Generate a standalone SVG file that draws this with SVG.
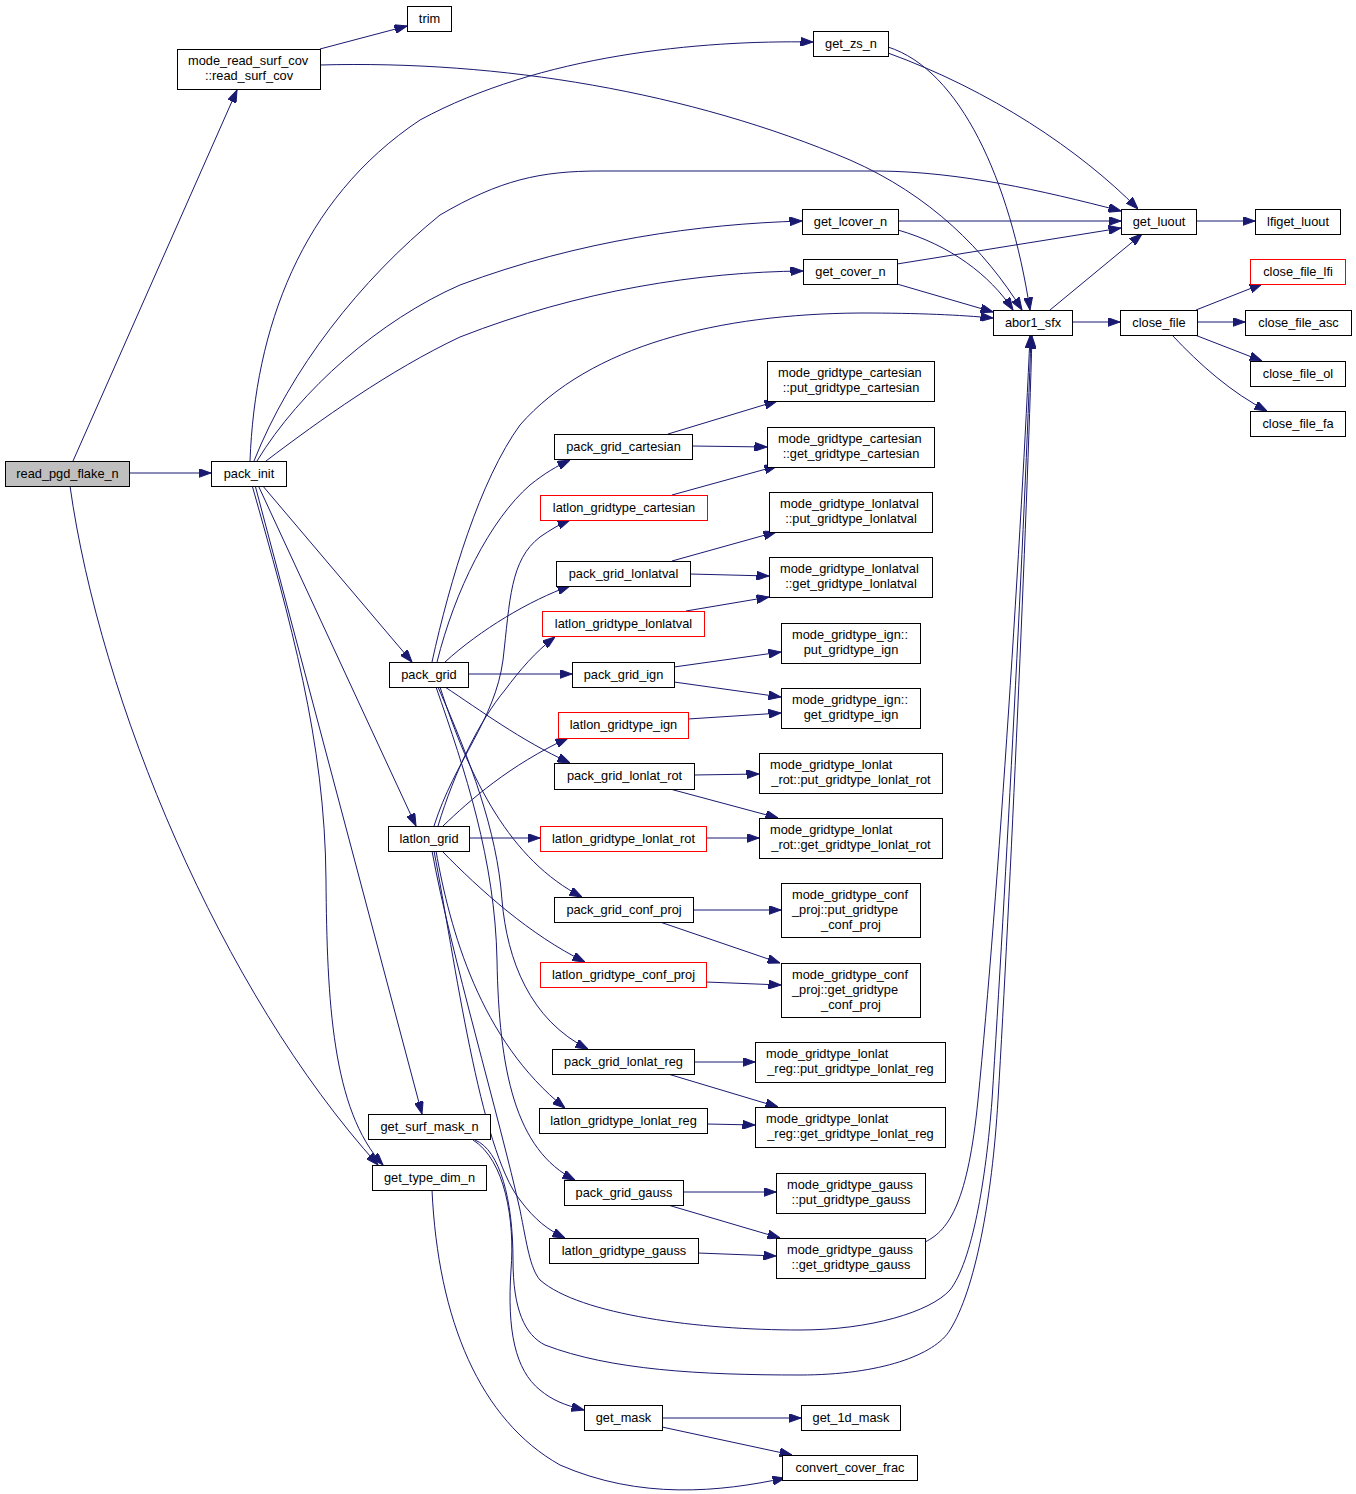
<svg xmlns="http://www.w3.org/2000/svg" width="1356" height="1494" viewBox="0 0 1356 1494">
<style>
.n rect{fill:#ffffff;stroke:#000000;stroke-width:1}
.n.red rect{stroke:#ff0000}
.n.root rect{fill:#bfbfbf}
text{font-family:"Liberation Sans",Arial,Helvetica,sans-serif;font-size:12.8px;fill:#000000}
.c{text-anchor:middle}
.edges path{fill:none;stroke:#191970;stroke-width:1;marker-end:url(#a)}
</style>
<defs>
<marker id="a" viewBox="0 0 12.5 9" refX="12.5" refY="4.5" markerWidth="12.5" markerHeight="9" markerUnits="userSpaceOnUse" orient="auto">
<path d="M0,0 L12.5,4.5 L0,9 z" fill="#191970" stroke="#191970" stroke-width="1"/>
</marker>
</defs>
<rect x="0" y="0" width="1356" height="1494" fill="#ffffff"/>
<g class="edges" id="edges">
<path d="M73,461 L237,90"/>
<path d="M129,473 L211,473"/>
<path d="M70,486 C100,700 220,990 378,1165"/>
<path d="M320,49 L407,26"/>
<path d="M320,65 C500,60 690,92 850,160 C930,195 985,250 1022,310"/>
<path d="M250,461 C255,330 300,200 420,120 C540,55 700,40 813,42"/>
<path d="M254,461 C290,370 360,280 440,215 C500,180 540,171 600,171 L880,171 C960,172 1040,190 1121,211"/>
<path d="M257,461 C300,390 380,320 460,285 C580,240 700,224 802,221"/>
<path d="M266,461 C320,420 390,370 460,337 C580,290 700,272 803,271"/>
<path d="M262,485 L412,662"/>
<path d="M258,485 L416,826"/>
<path d="M255,485 L422,1114"/>
<path d="M252,485 C290,620 325,740 326,880 C327,1000 332,1110 383,1165"/>
<path d="M888,53 C990,90 1080,150 1138,209"/>
<path d="M888,47 C960,70 1010,180 1030,310"/>
<path d="M898,221 L1121,221"/>
<path d="M898,230 C950,245 990,275 1013,310"/>
<path d="M897,264 L1121,228"/>
<path d="M897,284 L993,312"/>
<path d="M1196,221 L1255,221"/>
<path d="M1050,310 L1142,234"/>
<path d="M1072,322 L1120,322"/>
<path d="M1196,310 L1262,284"/>
<path d="M1197,322 L1245,322"/>
<path d="M1195,335 L1262,361"/>
<path d="M1172,335 C1200,365 1232,393 1267,411"/>
<path d="M432,662 C450,580 480,480 520,425 C590,345 720,314 860,313 C920,313 960,315 993,318"/>
<path d="M437,662 C455,590 490,520 530,485 C545,473 557,466 570,460"/>
<path d="M445,662 C480,630 530,600 570,586"/>
<path d="M468,674 L572,674"/>
<path d="M445,687 C480,710 520,740 570,763"/>
<path d="M440,687 C470,780 510,860 582,897"/>
<path d="M438,687 C470,760 497,830 502,900 C507,960 530,1020 588,1049"/>
<path d="M436,687 C465,770 495,860 497,960 C499,1070 515,1150 575,1180"/>
<path d="M434,826 C455,760 495,720 503,660 C510,600 510,560 540,537 C550,530 560,524 570,520"/>
<path d="M438,826 C455,770 480,720 505,690 C520,670 535,652 555,637"/>
<path d="M443,826 C470,800 510,765 568,738"/>
<path d="M469,838 L540,838"/>
<path d="M442,851 C480,890 530,935 585,962"/>
<path d="M436,851 C450,930 480,1040 565,1108"/>
<path d="M434,851 C455,960 480,1150 520,1200 C535,1220 548,1230 565,1238"/>
<path d="M432,851 C450,950 500,1120 520,1210 C527,1245 530,1268 540,1280 C580,1315 700,1330 800,1330 C870,1330 930,1312 950,1290 C972,1262 986,1180 992,1100 C1005,900 1025,520 1031,336"/>
<path d="M475,1140 C500,1150 513,1200 513,1260 C513,1310 525,1335 545,1345 C610,1370 700,1375 800,1375 C880,1375 935,1355 950,1330 C975,1290 992,1200 998,1100 C1010,900 1027,520 1032,336"/>
<path d="M473,1140 C505,1160 515,1220 511,1270 C507,1330 515,1370 540,1390 C552,1400 564,1405 584,1410"/>
<path d="M432,1190 C438,1320 480,1420 560,1465 C640,1500 720,1492 785,1478"/>
<path d="M662,1418 L801,1418"/>
<path d="M662,1427 L792,1455"/>
<path d="M668,434 L777,401"/>
<path d="M692,446 L767,447"/>
<path d="M672,495 L777,466"/>
<path d="M672,561 L776,532"/>
<path d="M690,574 L769,576"/>
<path d="M686,611 L769,597"/>
<path d="M674,667 L781,652"/>
<path d="M674,682 L781,697"/>
<path d="M688,719 L781,713"/>
<path d="M694,775 L759,774"/>
<path d="M670,789 L778,818"/>
<path d="M706,838 L759,838"/>
<path d="M693,910 L781,910"/>
<path d="M660,922 L780,963"/>
<path d="M706,982 L781,985"/>
<path d="M694,1062 L755,1062"/>
<path d="M668,1074 L778,1107"/>
<path d="M707,1124 L755,1125"/>
<path d="M683,1192 L776,1192"/>
<path d="M668,1205 L780,1238"/>
<path d="M698,1253 L776,1256"/>
<path d="M925,1242 C950,1230 968,1200 978,1100 C998,900 1022,520 1030,336"/>
</g>
<g class="n root" id="read_pgd_flake_n"><rect x="5.5" y="461.5" width="124" height="25"/><text class="c" x="67.5" y="477.5">read_pgd_flake_n</text></g>
<g class="n" id="pack_init"><rect x="211.5" y="461.5" width="75" height="25"/><text class="c" x="249" y="477.5">pack_init</text></g>
<g class="n" id="read_surf_cov"><rect x="177.5" y="49.5" width="143" height="40"/><text x="188" y="65">mode_read_surf_cov</text><text class="c" x="249" y="80">::read_surf_cov</text></g>
<g class="n" id="trim"><rect x="407.5" y="6.5" width="44" height="25"/><text class="c" x="429.5" y="22.5">trim</text></g>
<g class="n" id="get_zs_n"><rect x="813.5" y="31.5" width="75" height="25"/><text class="c" x="851" y="47.5">get_zs_n</text></g>
<g class="n" id="get_luout"><rect x="1121.5" y="209.5" width="75" height="25"/><text class="c" x="1159" y="225.5">get_luout</text></g>
<g class="n" id="lfiget_luout"><rect x="1255.5" y="209.5" width="85" height="25"/><text class="c" x="1298" y="225.5">lfiget_luout</text></g>
<g class="n" id="get_lcover_n"><rect x="802.5" y="209.5" width="96" height="25"/><text class="c" x="850.5" y="225.5">get_lcover_n</text></g>
<g class="n" id="get_cover_n"><rect x="803.5" y="259.5" width="94" height="25"/><text class="c" x="850.5" y="275.5">get_cover_n</text></g>
<g class="n" id="abor1_sfx"><rect x="993.5" y="310.5" width="79" height="25"/><text class="c" x="1033" y="326.5">abor1_sfx</text></g>
<g class="n" id="close_file"><rect x="1120.5" y="310.5" width="77" height="25"/><text class="c" x="1159" y="326.5">close_file</text></g>
<g class="n red" id="close_file_lfi"><rect x="1250.5" y="259.5" width="95" height="25"/><text class="c" x="1298" y="275.5">close_file_lfi</text></g>
<g class="n" id="close_file_asc"><rect x="1245.5" y="310.5" width="106" height="25"/><text class="c" x="1298.5" y="326.5">close_file_asc</text></g>
<g class="n" id="close_file_ol"><rect x="1250.5" y="361.5" width="95" height="25"/><text class="c" x="1298" y="377.5">close_file_ol</text></g>
<g class="n" id="close_file_fa"><rect x="1250.5" y="411.5" width="95" height="25"/><text class="c" x="1298" y="427.5">close_file_fa</text></g>
<g class="n" id="put_gridtype_cartesian"><rect x="767.5" y="361.5" width="167" height="40"/><text x="778" y="377">mode_gridtype_cartesian</text><text class="c" x="851" y="392">::put_gridtype_cartesian</text></g>
<g class="n" id="pack_grid_cartesian"><rect x="554.5" y="434.5" width="138" height="25"/><text class="c" x="623.5" y="450.5">pack_grid_cartesian</text></g>
<g class="n" id="get_gridtype_cartesian"><rect x="767.5" y="427.5" width="167" height="40"/><text x="778" y="443">mode_gridtype_cartesian</text><text class="c" x="851" y="458">::get_gridtype_cartesian</text></g>
<g class="n red" id="latlon_gridtype_cartesian"><rect x="540.5" y="495.5" width="167" height="25"/><text class="c" x="624" y="511.5">latlon_gridtype_cartesian</text></g>
<g class="n" id="put_gridtype_lonlatval"><rect x="769.5" y="492.5" width="163" height="40"/><text x="780" y="508">mode_gridtype_lonlatval</text><text class="c" x="851" y="523">::put_gridtype_lonlatval</text></g>
<g class="n" id="pack_grid_lonlatval"><rect x="556.5" y="561.5" width="134" height="25"/><text class="c" x="623.5" y="577.5">pack_grid_lonlatval</text></g>
<g class="n" id="get_gridtype_lonlatval"><rect x="769.5" y="557.5" width="163" height="40"/><text x="780" y="573">mode_gridtype_lonlatval</text><text class="c" x="851" y="588">::get_gridtype_lonlatval</text></g>
<g class="n red" id="latlon_gridtype_lonlatval"><rect x="542.5" y="611.5" width="162" height="25"/><text class="c" x="623.5" y="627.5">latlon_gridtype_lonlatval</text></g>
<g class="n" id="put_gridtype_ign"><rect x="781.5" y="623.5" width="139" height="40"/><text x="792" y="639">mode_gridtype_ign::</text><text class="c" x="851" y="654">put_gridtype_ign</text></g>
<g class="n" id="pack_grid"><rect x="389.5" y="662.5" width="79" height="25"/><text class="c" x="429" y="678.5">pack_grid</text></g>
<g class="n" id="pack_grid_ign"><rect x="572.5" y="662.5" width="102" height="25"/><text class="c" x="623.5" y="678.5">pack_grid_ign</text></g>
<g class="n" id="get_gridtype_ign"><rect x="781.5" y="688.5" width="139" height="40"/><text x="792" y="704">mode_gridtype_ign::</text><text class="c" x="851" y="719">get_gridtype_ign</text></g>
<g class="n red" id="latlon_gridtype_ign"><rect x="558.5" y="712.5" width="130" height="26"/><text class="c" x="623.5" y="729">latlon_gridtype_ign</text></g>
<g class="n" id="pack_grid_lonlat_rot"><rect x="554.5" y="763.5" width="140" height="26"/><text class="c" x="624.5" y="780">pack_grid_lonlat_rot</text></g>
<g class="n" id="put_gridtype_lonlat_rot"><rect x="759.5" y="753.5" width="183" height="40"/><text x="770" y="769">mode_gridtype_lonlat</text><text class="c" x="851" y="784">_rot::put_gridtype_lonlat_rot</text></g>
<g class="n" id="latlon_grid"><rect x="388.5" y="826.5" width="81" height="25"/><text class="c" x="429" y="842.5">latlon_grid</text></g>
<g class="n red" id="latlon_gridtype_lonlat_rot"><rect x="540.5" y="826.5" width="166" height="25"/><text class="c" x="623.5" y="842.5">latlon_gridtype_lonlat_rot</text></g>
<g class="n" id="get_gridtype_lonlat_rot"><rect x="759.5" y="818.5" width="183" height="40"/><text x="770" y="834">mode_gridtype_lonlat</text><text class="c" x="851" y="849">_rot::get_gridtype_lonlat_rot</text></g>
<g class="n" id="pack_grid_conf_proj"><rect x="554.5" y="897.5" width="139" height="25"/><text class="c" x="624" y="913.5">pack_grid_conf_proj</text></g>
<g class="n" id="put_gridtype_conf_proj"><rect x="781.5" y="883.5" width="139" height="54"/><text x="792" y="899">mode_gridtype_conf</text><text x="792" y="914">_proj::put_gridtype</text><text class="c" x="851" y="929">_conf_proj</text></g>
<g class="n red" id="latlon_gridtype_conf_proj"><rect x="540.5" y="962.5" width="166" height="25"/><text class="c" x="623.5" y="978.5">latlon_gridtype_conf_proj</text></g>
<g class="n" id="get_gridtype_conf_proj"><rect x="781.5" y="963.5" width="139" height="54"/><text x="792" y="979">mode_gridtype_conf</text><text x="792" y="994">_proj::get_gridtype</text><text class="c" x="851" y="1009">_conf_proj</text></g>
<g class="n" id="pack_grid_lonlat_reg"><rect x="552.5" y="1049.5" width="142" height="25"/><text class="c" x="623.5" y="1065.5">pack_grid_lonlat_reg</text></g>
<g class="n" id="put_gridtype_lonlat_reg"><rect x="755.5" y="1042.5" width="190" height="40"/><text x="766" y="1058">mode_gridtype_lonlat</text><text class="c" x="850.5" y="1073">_reg::put_gridtype_lonlat_reg</text></g>
<g class="n" id="latlon_gridtype_lonlat_reg"><rect x="539.5" y="1108.5" width="168" height="25"/><text class="c" x="623.5" y="1124.5">latlon_gridtype_lonlat_reg</text></g>
<g class="n" id="get_gridtype_lonlat_reg"><rect x="755.5" y="1107.5" width="190" height="40"/><text x="766" y="1123">mode_gridtype_lonlat</text><text class="c" x="850.5" y="1138">_reg::get_gridtype_lonlat_reg</text></g>
<g class="n" id="get_surf_mask_n"><rect x="368.5" y="1114.5" width="122" height="25"/><text class="c" x="429.5" y="1130.5">get_surf_mask_n</text></g>
<g class="n" id="get_type_dim_n"><rect x="372.5" y="1165.5" width="114" height="25"/><text class="c" x="429.5" y="1181.5">get_type_dim_n</text></g>
<g class="n" id="pack_grid_gauss"><rect x="564.5" y="1180.5" width="119" height="25"/><text class="c" x="624" y="1196.5">pack_grid_gauss</text></g>
<g class="n" id="put_gridtype_gauss"><rect x="776.5" y="1173.5" width="149" height="40"/><text x="787" y="1189">mode_gridtype_gauss</text><text class="c" x="851" y="1204">::put_gridtype_gauss</text></g>
<g class="n" id="latlon_gridtype_gauss"><rect x="549.5" y="1238.5" width="149" height="25"/><text class="c" x="624" y="1254.5">latlon_gridtype_gauss</text></g>
<g class="n" id="get_gridtype_gauss"><rect x="776.5" y="1238.5" width="149" height="40"/><text x="787" y="1254">mode_gridtype_gauss</text><text class="c" x="851" y="1269">::get_gridtype_gauss</text></g>
<g class="n" id="get_mask"><rect x="584.5" y="1405.5" width="78" height="25"/><text class="c" x="623.5" y="1421.5">get_mask</text></g>
<g class="n" id="get_1d_mask"><rect x="801.5" y="1405.5" width="99" height="25"/><text class="c" x="851" y="1421.5">get_1d_mask</text></g>
<g class="n" id="convert_cover_frac"><rect x="782.5" y="1455.5" width="135" height="25"/><text class="c" x="850" y="1471.5">convert_cover_frac</text></g>
</svg>
